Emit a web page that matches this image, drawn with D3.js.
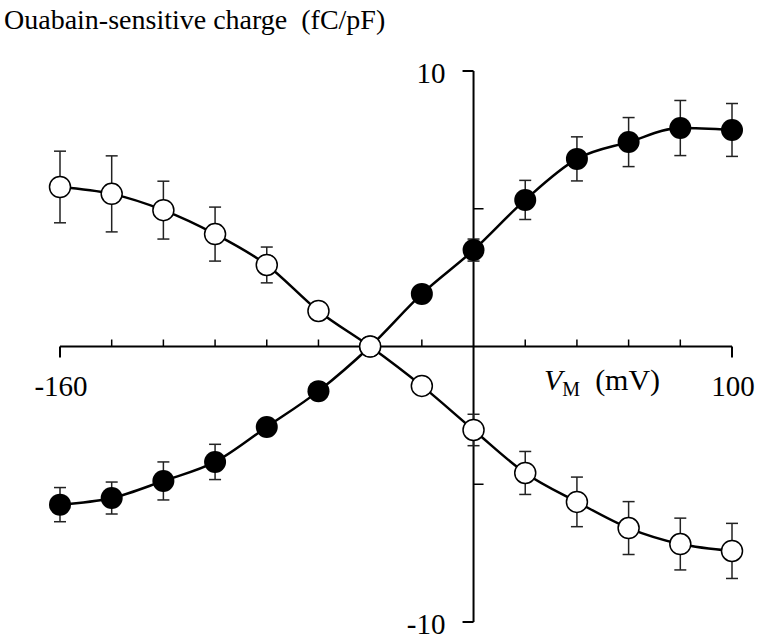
<!DOCTYPE html>
<html>
<head>
<meta charset="utf-8">
<script src="https://cdn.jsdelivr.net/npm/d3@7"></script>
<style>
  body { margin: 0; background: #fff; }
  text { font-family: "Liberation Serif", "Times New Roman", serif; fill: #000; white-space: pre; }
</style>
</head>
<body>
<div id="chart"></div>
<script>
// Membrane potential (mV)
const voltages = [-160, -140, -120, -100, -80, -60, -40, -20, 0, 20, 40, 60, 80, 100];

// Filled circles: charge (fC/pF) and error
const filledCharge = [-5.74, -5.5, -4.88, -4.19, -2.92, -1.62, 0, 1.91, 3.5, 5.32, 6.81, 7.42, 7.93, 7.86];
const filledError = [0.62, 0.58, 0.69, 0.64, 0.3, 0.25, 0, 0.25, 0.4, 0.71, 0.8, 0.89, 1.0, 0.96];

// Open circles: charge (fC/pF) and error
const openCharge = [5.79, 5.54, 4.95, 4.08, 2.96, 1.29, 0, -1.43, -3.03, -4.59, -5.64, -6.59, -7.17, -7.42];
const openError = [1.3, 1.38, 1.05, 0.98, 0.65, 0.3, 0, 0.3, 0.57, 0.78, 0.9, 0.96, 0.94, 1.0];

const xMajorTicks = [-160, 100];
const xMinorTicks = [-140, -120, -100, -80, -60, -40, -20, 20, 40, 60, 80];
const yMajorTicks = [-10, 10];
const yMinorTicks = [-5, 5];

const width = 762, height = 644;

const svg = d3.select("#chart")
  .append("svg")
  .attr("width", width)
  .attr("height", height);

const x = d3.scaleLinear().domain([-160, 100]).range([60, 732]);
const y = d3.scaleLinear().domain([-10, 10]).range([622, 71]);

// Axes
svg.append("line")
  .attr("x1", x(-160)).attr("x2", x(100))
  .attr("y1", y(0)).attr("y2", y(0))
  .attr("stroke", "#000").attr("stroke-width", 2);

svg.append("line")
  .attr("x1", x(0)).attr("x2", x(0))
  .attr("y1", y(10)).attr("y2", y(-10))
  .attr("stroke", "#000").attr("stroke-width", 2);

// x ticks: ends point down, inner ones up
svg.selectAll(".xmaj").data(xMajorTicks).enter().append("line")
  .attr("x1", d => x(d)).attr("x2", d => x(d))
  .attr("y1", y(0)).attr("y2", y(0) + 11)
  .attr("stroke", "#000").attr("stroke-width", 2);

svg.selectAll(".xmin").data(xMinorTicks).enter().append("line")
  .attr("x1", d => x(d)).attr("x2", d => x(d))
  .attr("y1", y(0)).attr("y2", y(0) - 7)
  .attr("stroke", "#000").attr("stroke-width", 1.5);

// y ticks: ends point left, inner ones right
svg.selectAll(".ymaj").data(yMajorTicks).enter().append("line")
  .attr("x1", x(0) - 11).attr("x2", x(0))
  .attr("y1", d => y(d)).attr("y2", d => y(d))
  .attr("stroke", "#000").attr("stroke-width", 2);

svg.selectAll(".ymin").data(yMinorTicks).enter().append("line")
  .attr("x1", x(0)).attr("x2", x(0) + 10)
  .attr("y1", d => y(d)).attr("y2", d => y(d))
  .attr("stroke", "#000").attr("stroke-width", 1.5);

// Tick labels
svg.selectAll(".xlab").data(xMajorTicks).enter().append("text")
  .attr("x", d => x(d) + 1)
  .attr("y", 396)
  .attr("text-anchor", "middle")
  .style("font-size", "29px")
  .text(d => d);

svg.selectAll(".ylab").data(yMajorTicks).enter().append("text")
  .attr("x", x(0) - 28)
  .attr("y", d => y(d) + 12)
  .attr("text-anchor", "end")
  .style("font-size", "29px")
  .text(d => d);

// Axis titles
svg.append("text")
  .attr("x", 4)
  .attr("y", 29)
  .style("font-size", "28px")
  .text("Ouabain-sensitive charge  (fC/pF)");

const xTitle = svg.append("text")
  .attr("x", 544)
  .attr("y", 390)
  .style("font-size", "30px");
xTitle.append("tspan").style("font-style", "italic").text("V");
xTitle.append("tspan").attr("dy", 6).style("font-size", "20px").text("M");
xTitle.append("tspan").attr("dy", -6).text("  (mV)");

// Data
const filled = voltages.map((v, i) => ({ v: v, q: filledCharge[i], e: filledError[i] }));
const open = voltages.map((v, i) => ({ v: v, q: openCharge[i], e: openError[i] }));

const line = d3.line()
  .x(d => x(d.v))
  .y(d => y(d.q))
  .curve(d3.curveMonotoneX);

[filled, open].forEach(series => {
  svg.append("path")
    .datum(series)
    .attr("d", line)
    .attr("fill", "none")
    .attr("stroke", "#000")
    .attr("stroke-width", 2.5);
});

function drawErrors(series) {
  const g = svg.append("g").attr("stroke", "#222").attr("stroke-width", 1.5);
  const withErr = series.filter(d => d.e > 0);
  g.selectAll(".ev").data(withErr).enter().append("line")
    .attr("x1", d => x(d.v)).attr("x2", d => x(d.v))
    .attr("y1", d => y(d.q + d.e)).attr("y2", d => y(d.q - d.e));
  g.selectAll(".ct").data(withErr).enter().append("line")
    .attr("x1", d => x(d.v) - 6).attr("x2", d => x(d.v) + 6)
    .attr("y1", d => y(d.q + d.e)).attr("y2", d => y(d.q + d.e));
  g.selectAll(".cb").data(withErr).enter().append("line")
    .attr("x1", d => x(d.v) - 6).attr("x2", d => x(d.v) + 6)
    .attr("y1", d => y(d.q - d.e)).attr("y2", d => y(d.q - d.e));
}

drawErrors(filled);
drawErrors(open);

svg.append("g").selectAll("circle").data(filled).enter().append("circle")
  .attr("cx", d => x(d.v)).attr("cy", d => y(d.q))
  .attr("r", 11)
  .attr("fill", "#000");

svg.append("g").selectAll("circle").data(open).enter().append("circle")
  .attr("cx", d => x(d.v)).attr("cy", d => y(d.q))
  .attr("r", 10.5)
  .attr("fill", "#fff")
  .attr("stroke", "#000")
  .attr("stroke-width", 1.5);
</script>
</body>
</html>
